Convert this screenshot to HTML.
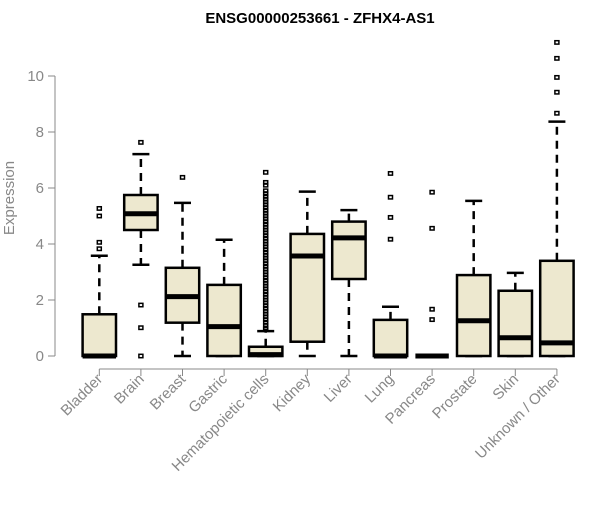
<!DOCTYPE html>
<html><head><meta charset="utf-8"><style>
body{margin:0;background:#fff;}
svg{font-family:"Liberation Sans",Arial,sans-serif;}
</style></head><body>
<svg id="chart" width="600" height="500">
<text x="320" y="23" text-anchor="middle" font-weight="bold" font-size="15">ENSG00000253661 - ZFHX4-AS1</text>
<text transform="translate(14,198) rotate(-90)" text-anchor="middle" font-size="15" fill="#888">Expression</text>
<g id="axes"></g><g id="boxes"></g>
</svg>
<script>
const categories=["Bladder","Brain","Breast","Gastric","Hematopoietic cells","Kidney","Liver","Lung","Pancreas","Prostate","Skin","Unknown / Other"];
const q1=[0,4.5,1.19,0,0,0.51,2.75,0,0,0,0,0];
const medians=[0,5.08,2.12,1.05,0.05,3.57,4.22,0,0,1.26,0.65,0.47];
const q3=[1.49,5.75,3.15,2.54,0.33,4.36,4.8,1.29,0,2.89,2.33,3.4];
const whiskerLow=[0,3.26,0,0,0,0,0,0,0,0,0,0];
const whiskerHigh=[3.58,7.21,5.47,4.15,0.89,5.87,5.21,1.76,0,5.54,2.97,8.37];
const outliers=[[5.27,5.0,4.06,3.83],[7.63,1.82,1.01,0],[6.38],[],
[6.56,6.2,6.1,5.9,5.8,5.7,5.6,5.5,5.4,5.3,5.2,5.1,5.0,4.9,4.8,4.7,4.6,4.5,4.4,4.3,4.2,4.1,4.0,3.9,3.8,3.7,3.6,3.5,3.4,3.3,3.2,3.1,3.0,2.9,2.8,2.7,2.6,2.5,2.4,2.3,2.2,2.1,2.0,1.9,1.8,1.7,1.6,1.5,1.4,1.3,1.2,1.1,1.0,0.95],
[],[],[6.52,5.67,4.95,4.17],[5.85,4.56,1.67,1.3],[],[],[11.2,10.63,9.95,9.42,8.67]];
const yTicks=[0,2,4,6,8,10];
const NS="http://www.w3.org/2000/svg";
function y(v){return 356-v*28;}
function x(i){return 99.3+i*41.6;}
function mk(t,a,p){const e=document.createElementNS(NS,t);for(const k in a)e.setAttribute(k,a[k]);p.appendChild(e);return e;}
const ax=document.getElementById('axes'),bx=document.getElementById('boxes');
let l=mk('line',{x1:55,x2:55,y1:y(0),y2:y(10),stroke:'#888'},ax);

yTicks.forEach(t=>{
 let tk=mk('line',{x1:48,x2:55,y1:y(t),y2:y(t),stroke:'#888'},ax);
 
 let tx=mk('text',{x:44,y:y(t)+5,'text-anchor':'end','font-size':15,fill:'#888'},ax);tx.textContent=t;
 
});
let xa=mk('line',{x1:x(0),x2:x(11),y1:369,y2:369,stroke:'#888'},ax);

categories.forEach((c,i)=>{
 let tk=mk('line',{x1:x(i),x2:x(i),y1:369,y2:376,stroke:'#888'},ax);
 
 let tx=mk('text',{transform:`translate(${x(i)+4},${380}) rotate(-45)`,'text-anchor':'end','font-size':15,fill:'#888'},ax);tx.textContent=c;
 
 const g=mk('g',{},bx);
 
 
 const cx=x(i),hw=16.7;
 mk('line',{x1:cx,x2:cx,y1:y(q3[i]),y2:y(whiskerHigh[i]),stroke:'#000','stroke-width':2.5,'stroke-dasharray':'8,6'},g);
 mk('line',{x1:cx,x2:cx,y1:y(q1[i]),y2:y(whiskerLow[i]),stroke:'#000','stroke-width':2.5,'stroke-dasharray':'8,6'},g);
 mk('line',{x1:cx-8.5,x2:cx+8.5,y1:y(whiskerHigh[i]),y2:y(whiskerHigh[i]),stroke:'#000','stroke-width':2.5},g);
 mk('line',{x1:cx-8.5,x2:cx+8.5,y1:y(whiskerLow[i]),y2:y(whiskerLow[i]),stroke:'#000','stroke-width':2.5},g);
 mk('rect',{x:cx-hw,y:y(q3[i]),width:hw*2,height:Math.max(0,y(q1[i])-y(q3[i])),fill:'#ede8cf',stroke:'#000','stroke-width':2.5},g);
 mk('line',{x1:cx-hw,x2:cx+hw,y1:y(medians[i]),y2:y(medians[i]),stroke:'#000','stroke-width':5},g);
 outliers[i].forEach(v=>{mk('rect',{x:cx-2,y:y(v)-1.7,width:4,height:3.4,fill:'none',stroke:'#000','stroke-width':1.5},g);});
});
</script>
</body></html>
